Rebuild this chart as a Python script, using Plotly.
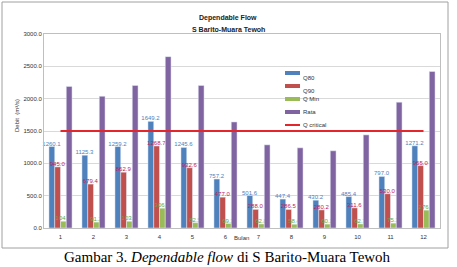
import plotly.graph_objects as go

bulan = [str(i) for i in range(1, 13)]
q80 = [1260.1, 1125.3, 1259.2, 1649.2, 1245.6, 757.2, 501.6, 447.4, 430.2, 485.4, 797.0, 1271.2]
q90 = [945.0, 679.4, 862.9, 1268.7, 932.6, 477.0, 288.0, 286.5, 280.2, 311.6, 530.0, 965.0]
qmin = [104.6, 91.2, 103.9, 306.4, 82.5, 69.3, 62.8, 58.4, 60.1, 62.7, 75.3, 276.2]
rata = [2190, 2037, 2205, 2650, 2205, 1640, 1286, 1240, 1194, 1440, 1945, 2420]
qcrit = [1500] * 12

names = ["Q80", "Q90", "Q Min", "Rata", "Q critical"]
colors = ["#4F81BD", "#C0504D", "#9BBB59", "#8064A2", "#E3262B"]

FONT = "Liberation Sans"
lbl = dict(family=FONT, size=6)

L, R, T, B = 44, 17, 34, 39
W, H = 457, 267
PW, PH = W - L - R, H - T - B


def px(x):
    return (x - L) / PW


def py(y):
    return (H - B - y) / PH


fig = go.Figure()
fig.add_trace(go.Bar(name=names[0], x=bulan, y=q80, marker_color=colors[0],
                     text=[f"{v:.1f}" for v in q80], textposition="outside",
                     textfont=dict(lbl, color="#4F81BD"), constraintext="none", cliponaxis=False))
fig.add_trace(go.Bar(name=names[1], x=bulan, y=q90, marker_color=colors[1],
                     text=[f"{v:.1f}" for v in q90], textposition="outside",
                     textfont=dict(lbl, color="#C0205D"), constraintext="none", cliponaxis=False))
fig.add_trace(go.Bar(name=names[2], x=bulan, y=qmin, marker_color=colors[2],
                     text=[f"{v:.1f}" for v in qmin], textposition="outside",
                     textfont=dict(lbl, color="#5EA84A"), constraintext="none", cliponaxis=False))
fig.add_trace(go.Bar(name=names[3], x=bulan, y=rata, marker_color=colors[3]))
fig.add_trace(go.Scatter(name=names[4], x=bulan, y=qcrit, mode="lines",
                         line=dict(color=colors[4], width=2)))

fig.update_layout(
    width=W, height=H,
    margin=dict(l=L, r=R, t=T, b=B),
    paper_bgcolor="white", plot_bgcolor="white",
    barmode="group", bargap=0.3, bargroupgap=0,
    font=dict(family=FONT, size=6, color="#404040"),
    showlegend=False,
)
fig.update_xaxes(showline=True, linecolor="#BFBFBF", mirror=True, ticks="",
                 tickfont=dict(family=FONT, size=6, color="#333"), ticklabelstandoff=3)
fig.update_yaxes(range=[0, 3000], dtick=500, tickformat=".1f", showgrid=True, gridcolor="#D9D9D9",
                 showline=True, linecolor="#BFBFBF", mirror=True, zeroline=False,
                 tickfont=dict(family=FONT, size=6, color="#333"), ticks="")

# title
fig.add_annotation(text="<b>Dependable Flow</b>", xref="paper", yref="paper", x=px(228), y=py(12),
                   showarrow=False, font=dict(family=FONT, size=7, color="#222"))
fig.add_annotation(text="<b>S Barito-Muara Tewoh</b>", xref="paper", yref="paper", x=px(228), y=py(24),
                   showarrow=False, font=dict(family=FONT, size=7, color="#222"))

# custom legend
for i, (n, c) in enumerate(zip(names, colors)):
    yy = 73 + 13 * i
    fig.add_shape(type="line", xref="paper", yref="paper", x0=px(285), x1=px(300), y0=py(yy), y1=py(yy),
                  line=dict(color=c, width=2 if i == 4 else 4))
    fig.add_annotation(text=n, xref="paper", yref="paper", x=px(301), y=py(yy), xanchor="left",
                       showarrow=False, font=dict(family=FONT, size=6, color="#333"))

fig.add_annotation(text="Bulan", xref="paper", yref="paper", x=px(241), y=py(243),
                   showarrow=False, font=dict(family=FONT, size=6, color="#333"))
fig.add_annotation(text="Debit  (m³/s)", textangle=-90, xref="paper", yref="paper",
                   x=px(12), y=py(116), showarrow=False, font=dict(family=FONT, size=6, color="#333"))
fig.add_annotation(text="Gambar 3. <i>Dependable flow</i> di S Barito-Muara Tewoh", xref="paper", yref="paper",
                   x=px(227), y=py(266.5), yanchor="bottom", xanchor="center", showarrow=False,
                   font=dict(family="Liberation Serif", size=15, color="black"))
fig.add_shape(type="rect", xref="paper", yref="paper",
              x0=px(2), x1=px(448), y0=py(248), y1=py(2),
              line=dict(color="#A0A0A0", width=1))

fig.write_html("out.html")
